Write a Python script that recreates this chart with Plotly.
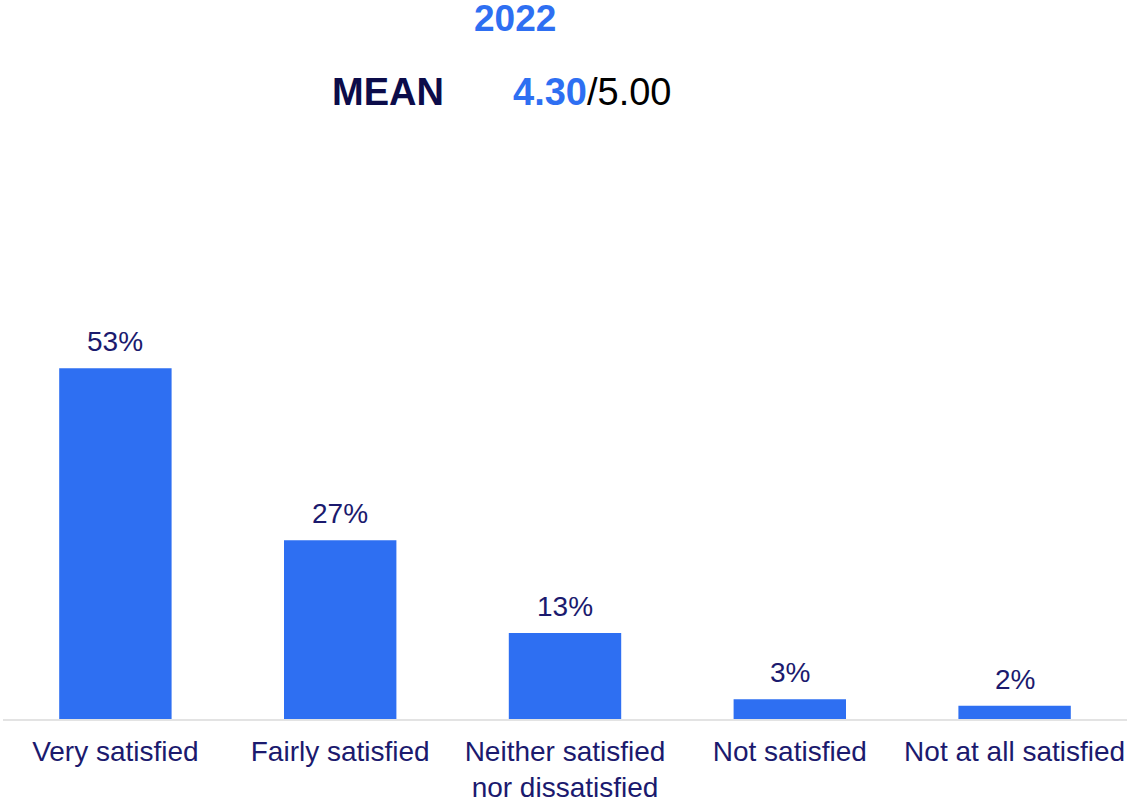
import plotly.graph_objects as go

# Survey satisfaction results, 2022
categories = ["Very satisfied", "Fairly satisfied", "Neither satisfied<br>nor dissatisfied",
              "Not satisfied", "Not at all satisfied"]
shares = [53, 27, 13, 3, 2]
year_label = "2022"
mean_score = "4.30"
mean_max = "5.00"

BLUE = '#2e6ff2'
NAVY = '#1b1a6e'
DARK = '#0c0c4a'
FONT = 'Liberation Sans, Arial, sans-serif'

W, H = 1127, 799
LEFT, BOTTOM = 3, 80
PLOT_H = 397          # pixel height of the plot area (y range 0..60)
BASE = H - BOTTOM     # pixel y of the baseline


def paper_y(px):
    return (BASE - px) / PLOT_H


def paper_x(px):
    return (px - LEFT) / (W - LEFT)


fig = go.Figure()

fig.add_trace(go.Bar(
    x=categories,
    y=shares,
    marker=dict(color=BLUE, line=dict(width=0)),
    hoverinfo='skip'
))

# value labels above the bars
for cat, v in zip(categories, shares):
    fig.add_annotation(
        x=cat, y=v, text=f"{v}%", showarrow=False,
        xanchor='center', yanchor='bottom', yshift=9,
        font=dict(family=FONT, size=28, color=NAVY)
    )

# Header: year and mean score
fig.add_annotation(
    text=f"<b>{year_label}</b>", xref='paper', yref='paper',
    x=paper_x(515), y=paper_y(18), xanchor='center', yanchor='middle', showarrow=False,
    font=dict(family=FONT, size=37, color=BLUE)
)
fig.add_annotation(
    text="<b>MEAN</b>", xref='paper', yref='paper',
    x=paper_x(388), y=paper_y(92), xanchor='center', yanchor='middle', showarrow=False,
    font=dict(family=FONT, size=38, color=DARK)
)
fig.add_annotation(
    text=f"<b><span style='color:{BLUE}'>{mean_score}</span></b>/{mean_max}",
    xref='paper', yref='paper',
    x=paper_x(511), y=paper_y(92), xanchor='left', yanchor='middle', showarrow=False,
    font=dict(family=FONT, size=38, color='#000000')
)

fig.update_layout(
    width=W,
    height=H,
    margin=dict(l=LEFT, r=0, t=H - BOTTOM - PLOT_H, b=BOTTOM),
    template='plotly_white',
    plot_bgcolor='white',
    paper_bgcolor='white',
    bargap=0.5,
    showlegend=False,
    font=dict(family=FONT)
)
fig.update_xaxes(
    showgrid=False,
    showline=True,
    linecolor='#e3e3e3',
    linewidth=2,
    ticks='',
    automargin=False,
    ticklabelstandoff=6,
    tickfont=dict(family=FONT, size=28, color=NAVY)
)
fig.update_yaxes(
    range=[0, 60],
    visible=False,
    showgrid=False,
    zeroline=False
)

# drop the default body margin so the chart fills the window
fig.write_html(
    "out.html",
    config={'displayModeBar': False},
    post_script="document.body.style.margin='0';document.body.style.overflow='hidden';"
)
